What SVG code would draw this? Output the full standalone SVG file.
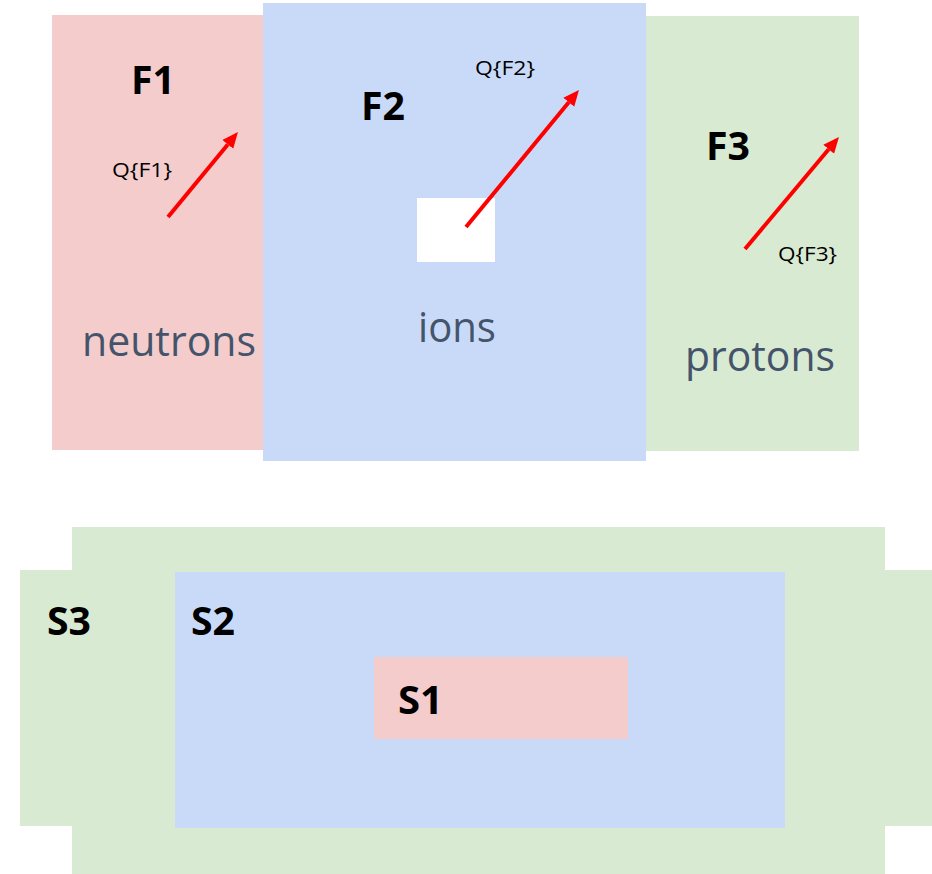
<svg xmlns="http://www.w3.org/2000/svg" width="932" height="874" viewBox="0 0 932 874">
<style>
.pink{fill:#F4CCCC}
.blue{fill:#C9DAF8}
.green{fill:#D9EAD3}
.lbl{font-family:"Open Sans","Liberation Sans",sans-serif;font-weight:bold;font-size:40px;fill:#000}
.q{font-family:"Open Sans","Liberation Sans",sans-serif;font-size:20px;fill:#000}
.big{font-family:"Open Sans","Liberation Sans",sans-serif;font-size:42px;fill:#44546A}
.arr{stroke:#FF0000;stroke-width:4;fill:none;marker-end:url(#ah)}
</style>
<defs>
<marker id="ah" markerUnits="userSpaceOnUse" markerWidth="20" markerHeight="20" viewBox="0 -10 20 20" refX="0" refY="0" orient="auto">
<path d="M0,-7 L16,0 L0,7 Z" fill="#FF0000"/>
</marker>
</defs>
<g id="F1">
<rect class="pink" x="52" y="15" width="212" height="435"/>
<text class="lbl" x="131" y="94" textLength="44" lengthAdjust="spacingAndGlyphs">F1</text>
<text class="q" x="112" y="177" textLength="60" lengthAdjust="spacingAndGlyphs">Q{F1}</text>
<text class="big" x="82" y="356" textLength="174" lengthAdjust="spacingAndGlyphs">neutrons</text>
</g>
<g id="F3">
<rect class="green" x="645" y="16" width="214" height="435"/>
<text class="lbl" x="706" y="160" textLength="44" lengthAdjust="spacingAndGlyphs">F3</text>
<text class="q" x="778" y="261" textLength="59" lengthAdjust="spacingAndGlyphs">Q{F3}</text>
<text class="big" x="685" y="371" textLength="150" lengthAdjust="spacingAndGlyphs">protons</text>
</g>
<g id="F2">
<rect class="blue" x="263" y="3" width="383" height="458"/>
<rect x="417" y="198" width="78" height="64" fill="#FFFFFF"/>
<text class="lbl" x="361" y="120" textLength="44" lengthAdjust="spacingAndGlyphs">F2</text>
<text class="q" x="475" y="75" textLength="60" lengthAdjust="spacingAndGlyphs">Q{F2}</text>
<text class="big" x="418" y="342" textLength="78" lengthAdjust="spacingAndGlyphs">ions</text>
</g>
<g id="S3">
<path class="green" d="M72,527 H885 V570 H932 V826 H885 V874 H72 V826 H20 V570 H72 Z"/>
<text class="lbl" x="47" y="635" textLength="44" lengthAdjust="spacingAndGlyphs">S3</text>
</g>
<g id="S2">
<rect class="blue" x="175" y="572" width="610" height="256"/>
<text class="lbl" x="191" y="635" textLength="44" lengthAdjust="spacingAndGlyphs">S2</text>
</g>
<g id="S1">
<rect class="pink" x="374" y="657" width="254" height="82"/>
<text class="lbl" x="398" y="714" textLength="45" lengthAdjust="spacingAndGlyphs">S1</text>
</g>
<g id="connectors">
<line class="arr" x1="168" y1="217" x2="227.8" y2="144.4"/>
<line class="arr" x1="466" y1="227" x2="568.8" y2="102.3"/>
<line class="arr" x1="745" y1="249" x2="828.7" y2="149.3"/>
</g>
</svg>
